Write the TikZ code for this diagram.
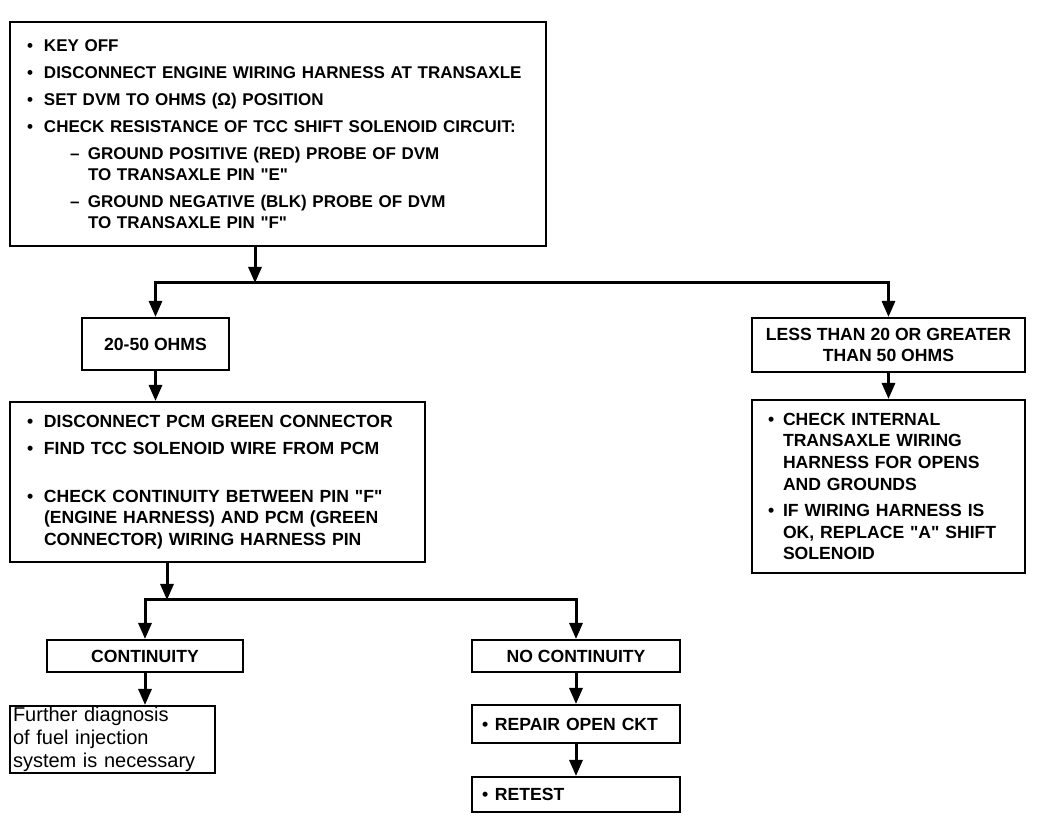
\documentclass[tikz,border=0pt]{standalone}
\usepackage{fontspec}
\setmainfont{Liberation Sans}
\usepackage{tikz}
\usetikzlibrary{positioning}
\usetikzlibrary{arrows.meta}

\newcommand{\bul}[1][8.5pt]{\makebox[#1][l]{\textbullet}}
\newcommand{\cnt}[1][8.5pt]{\hspace*{#1}}
\newcommand{\subdash}{\hspace*{21.5pt}\makebox[9pt][l]{--}}
\newcommand{\subcnt}{\hspace*{30.5pt}}
\newcommand{\qq}[1]{\textquotedbl#1\textquotedbl}

\begin{document}
\begin{tikzpicture}[
        x = 0.5pt, y = -0.5pt,
        box/.style = {
            draw,
            line width = 1pt,
            inner sep = 0pt,
            align = center,
            font = \fontsize{8.8}{10.8}\bfseries\selectfont,
            minimum width = #1
        },
        box/.default = 100pt,
        listbox/.style = {
            box,
            align = left,
            inner xsep = 8.5pt,
            text width = #1
        },
        flow/.style = {
            line width = 1.5pt,
            -{Triangle[width=6.5pt, length=8pt]}
        }
    ]
    \useasboundingbox (0,0) rectangle (1040,822);

    {\node[listbox=251pt, minimum height=112pt,
        font=\fontsize{8.5}{10.5}\bfseries\selectfont] (check) at (278,134) {%
        \bul KEY OFF\\[3pt]
        \bul DISCONNECT ENGINE WIRING HARNESS AT TRANSAXLE\\[3pt]
        \bul SET DVM TO OHMS (Ω) POSITION\\[3pt]
        \bul CHECK RESISTANCE OF TCC SHIFT SOLENOID CIRCUIT:\\[3pt]
        \subdash GROUND POSITIVE (RED) PROBE OF DVM\\
        \subcnt TO TRANSAXLE PIN \qq{E}\\[3pt]
        \subdash GROUND NEGATIVE (BLK) PROBE OF DVM\\
        \subcnt TO TRANSAXLE PIN \qq{F}};}
    {\node[box=73.5pt, minimum height=26pt] (ok) at (155.5,344) {20-50 OHMS};}
    {\node[box=136.5pt, minimum height=27pt] (bad) at (888.5,345) {LESS THAN 20 OR GREATER\\THAN 50 OHMS};}
    {\node[listbox=190.5pt, minimum height=80pt] (pcm) at (217.5,482) {%
        \bul DISCONNECT PCM GREEN CONNECTOR\\[3pt]
        \bul FIND TCC SOLENOID WIRE FROM PCM\\[13pt]
        \bul CHECK CONTINUITY BETWEEN PIN \qq{F}\\
        \cnt (ENGINE HARNESS) AND PCM (GREEN\\
        \cnt CONNECTOR) WIRING HARNESS PIN};}
    {\node[listbox=120.5pt, inner xsep=8pt, minimum height=86.5pt] (harness) at (888.5,486.5) {%
        \bul[7.5pt]CHECK INTERNAL\\
        \cnt[7.5pt]TRANSAXLE WIRING\\
        \cnt[7.5pt]HARNESS FOR OPENS\\
        \cnt[7.5pt]AND GROUNDS\\[2.5pt]
        \bul[7.5pt]IF WIRING HARNESS IS\\
        \cnt[7.5pt]OK, REPLACE \qq{A} SHIFT\\
        \cnt[7.5pt]SOLENOID};}
    {\node[box=98pt, minimum height=16pt] (cont) at (145,656) {CONTINUITY};}
    {\node[box=104pt, minimum height=16pt] (nocont) at (576,656) {NO CONTINUITY};}
    {\node[listbox=99.5pt, inner xsep=1.5pt, minimum height=33.5pt,
        font=\fontsize{10}{11.6}\selectfont] (further) at (112.5,739.5) {%
        Further diagnosis\\
        of fuel injection\\
        system is necessary};}
    {\node[listbox=94pt, inner xsep=5pt, minimum height=19pt] (repair) at (576,724) {\bul[6.5pt]REPAIR OPEN CKT};}
    {\node[listbox=94pt, inner xsep=5pt, minimum height=17.5pt] (retest) at (576,794.5) {\bul[6.5pt]RETEST};}

    \coordinate (j1) at (255,283);
    \coordinate (j2) at (167,600);

    \draw[flow] (check.south -| j1) -- (j1);
    \draw[flow] (j1) -| (ok);
    \draw[flow] (j1) -| (bad);
    \draw[flow] (ok.south) -- (ok.south |- pcm.north);
    \draw[flow] (bad) -- (harness);
    \draw[flow] (pcm.south -| j2) -- (j2);
    \draw[flow] (j2) -| (cont);
    \draw[flow] (j2) -| (nocont);
    \draw[flow] (cont) -- (cont.south |- further.north);
    \draw[flow] (nocont) -- (repair);
    \draw[flow] (repair) -- (retest);
\end{tikzpicture}
\end{document}
